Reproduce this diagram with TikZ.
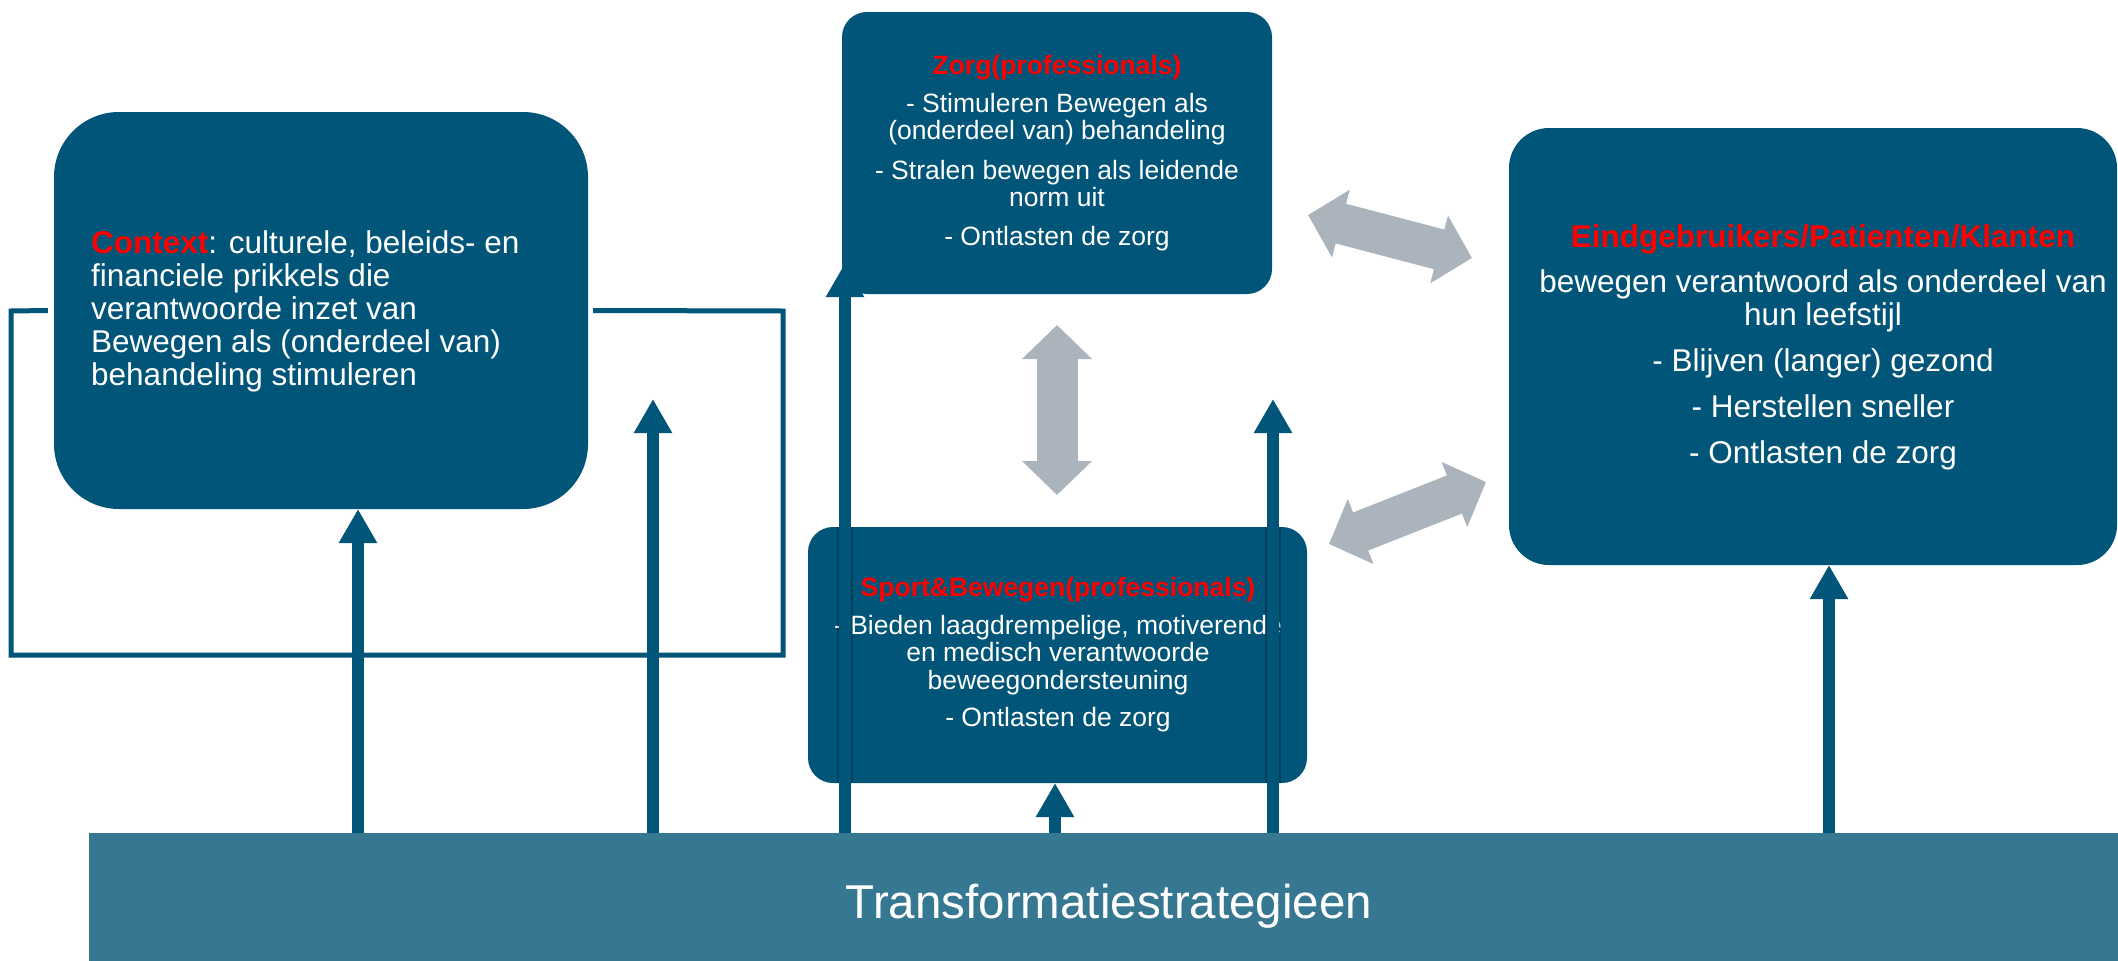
\documentclass[tikz,border=0pt]{standalone}
\usepackage{fontspec}
\setmainfont{Liberation Sans}
\usetikzlibrary{arrows.meta,calc}
\definecolor{boxc}{RGB}{0,85,120}
\definecolor{barc}{RGB}{54,119,145}
\definecolor{grayc}{RGB}{171,180,189}
\definecolor{redc}{RGB}{255,0,0}
\tikzset{
  box/.style={fill=boxc, draw=none, inner sep=0pt},
  bodytxt/.style={text=white, inner sep=0pt, align=center},
  flow/.style={draw=boxc, line width=12pt, -{Triangle[width=36pt,length=34pt]}},
  shaftshadow/.style={draw=black, opacity=0.22, line width=16pt},
  loopline/.style={draw=boxc, line width=5pt, miter limit=10},
  dbl/.style={draw=grayc, line width=41pt, {Triangle[width=68pt,length=34pt]}-{Triangle[width=68pt,length=34pt]}},
  ttl/.style={text=redc, font=\bfseries}
}
\begin{document}
\begin{tikzpicture}[x=1pt,y=-1pt]
\useasboundingbox (0,0) rectangle (2118,961);

% boxes
\node[box, rounded corners=65pt, minimum width=534pt, minimum height=397pt] (ctx) at (321,310.5) {};
\node[box, rounded corners=25pt, minimum width=430pt, minimum height=282pt] (zorg) at (1057,153) {};
\node[box, rounded corners=25pt, minimum width=499pt, minimum height=256pt] (sport) at (1057.5,655) {};
\node[box, rounded corners=40pt, minimum width=608pt, minimum height=437pt] (eind) at (1813,346.5) {};
\node[fill=barc, inner sep=0pt, minimum width=2029pt, minimum height=128pt] (bar) at (1103.5,897) {};

% texts
\node[text=white, inner sep=0pt, align=left, anchor=west,
      font=\fontsize{31.5}{33}\selectfont] (ctxtext) at (91,311)
  {{\color{redc}\bfseries Context}: culturele, beleids- en\\
   financiele prikkels die\\
   verantwoorde inzet van\\
   Bewegen als (onderdeel van)\\
   behandeling stimuleren};

\node[bodytxt, font=\fontsize{26.5}{27.5}\selectfont] (zorgtext) at (1057,153)
  {{\color{redc}\bfseries Zorg(professionals)}\\[10pt]
   - Stimuleren Bewegen als\\
   (onderdeel van) behandeling\\[12pt]
   - Stralen bewegen als leidende\\
   norm uit\\[11pt]
   - Ontlasten de zorg};

\node[bodytxt, font=\fontsize{26.5}{27.5}\selectfont] (sporttext) at (1058,655)
  {{\color{redc}\bfseries Sport\&Bewegen(professionals)}\\[10pt]
   - Bieden laagdrempelige, motiverende\\
   en medisch verantwoorde\\
   beweegondersteuning\\[10pt]
   - Ontlasten de zorg};

\node[bodytxt, font=\fontsize{31.5}{33}\selectfont] (eindtext) at (1823,347)
  {{\color{redc}\bfseries Eindgebruikers/Patienten/Klanten}\\[12pt]
   bewegen verantwoord als onderdeel van\\
   hun leefstijl\\[13pt]
   - Blijven (langer) gezond\\[13pt]
   - Herstellen sneller\\[13pt]
   - Ontlasten de zorg};

\node[text=white, inner sep=0pt, anchor=base, font=\fontsize{47.5}{52}\selectfont] (bartext) at (1109,918)
  {Transformatiestrategieen};

% feedback loop around context
\coordinate (lpA) at ($(ctx.west)+(-6,0)$);
\coordinate (lpB) at ($(ctx.east)+(5,0)$);
\draw[loopline] (lpA) -- (11,311) -- (11,655) -- (783,655) -- (783,311) -- (lpB);

% upward arrows from the bar
\coordinate (t1) at (358,509);
\coordinate (t2) at (653,399);
\coordinate (t3) at (845,263);
\coordinate (t4) at (1055,783);
\coordinate (t5) at (1273,399);
\coordinate (t6) at (1829,565);
% faint shadow of the shafts where they cross the Sport box
\draw[shaftshadow] (sport.north -| t3) -- (sport.south -| t3);
\draw[shaftshadow] (sport.north -| t5) -- (sport.south -| t5);
\foreach \t in {t1,t2,t3,t4,t5,t6}{
  \draw[flow] (bar.north -| \t) -- (\t);
}

% grey double arrows
\coordinate (g1a) at (1057,325);
\coordinate (g1b) at (1057,495);
\coordinate (g2a) at (1308,215);
\coordinate (g2b) at (1472,258);
\coordinate (g3a) at (1329,544);
\coordinate (g3b) at (1486,482);
\draw[dbl] (g1a) -- (g1b);
\draw[dbl] (g2a) -- (g2b);
\draw[dbl] (g3a) -- (g3b);
\end{tikzpicture}
\end{document}
